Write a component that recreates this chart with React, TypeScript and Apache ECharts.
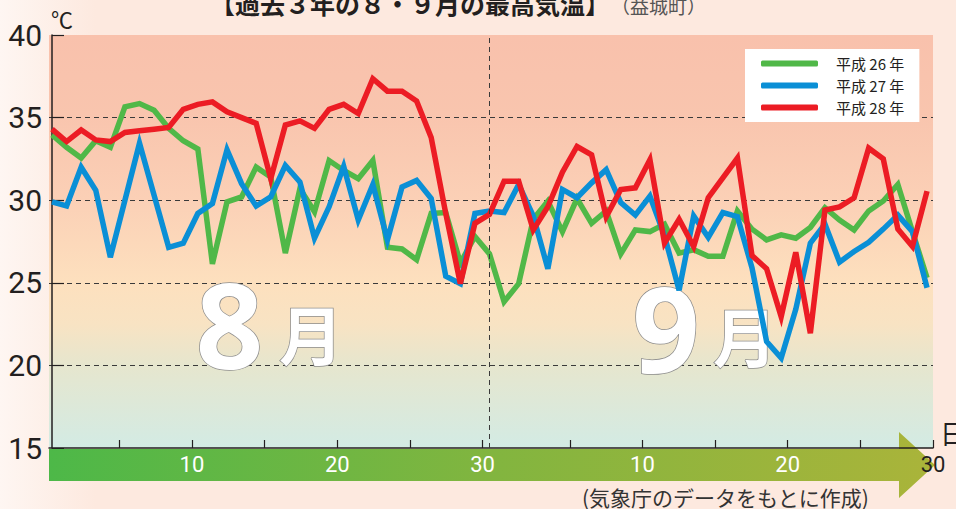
import React, { useEffect, useRef } from 'react';
import * as echarts from 'echarts';

const seriesNames = ['平成 26 年', '平成 27 年', '平成 28 年'];
const seriesColors = ['#50b848', '#0a8fd6', '#ec1c24'];

// Daily max temperature, Aug 1 .. Sep 30 (61 days)
const heisei26 = [
  33.95, 33.2, 32.55, 33.6, 33.2, 35.65, 35.85, 35.45, 34.35, 33.6,
  33.1, 26.15, 29.9, 30.2, 32.0, 31.4, 26.8, 30.7, 29.3, 32.4,
  31.8, 31.3, 32.4, 27.15, 27.05, 26.4, 29.2, 29.25, 26.2, 27.8,
  26.75, 23.85, 24.95, 28.85, 29.95, 28.1, 30.1, 28.6, 29.35, 26.75,
  28.2, 28.1, 28.55, 26.8, 27.0, 26.6, 26.6, 29.35, 28.25, 27.6,
  27.9, 27.7, 28.35, 29.55, 28.8, 28.2, 29.35, 29.95, 30.95, 28.1,
  25.3,
];
const heisei27 = [
  29.9, 29.65, 32.0, 30.6, 26.55, 30.0, 33.45, 30.3, 27.15, 27.4,
  29.2, 29.8, 33.05, 31.0, 29.65, 30.2, 32.1, 31.1, 27.7, 29.6,
  32.05, 28.8, 30.95, 27.6, 30.8, 31.2, 30.1, 25.4, 24.95, 29.2,
  29.35, 29.25, 30.95, 29.05, 25.85, 30.65, 30.15, 31.05, 31.85, 29.85,
  29.1, 30.25, 27.85, 24.55, 29.05, 27.75, 29.25, 29.0, 25.9, 21.45,
  20.45, 23.4, 27.4, 28.55, 26.25, 26.9, 27.45, 28.25, 29.1, 28.1,
  24.7,
];
const heisei28 = [
  34.3, 33.55, 34.25, 33.65, 33.55, 34.1, 34.2, 34.3, 34.4, 35.5,
  35.8, 35.95, 35.35, 35.0, 34.65, 31.3, 34.55, 34.8, 34.35, 35.5,
  35.8, 35.25, 37.35, 36.6, 36.6, 36.0, 33.8, 29.2, 24.95, 28.6,
  29.15, 31.15, 31.15, 28.2, 29.6, 31.7, 33.25, 32.75, 29.0, 30.65,
  30.75, 32.45, 27.4, 28.85, 27.2, 30.15, 31.35, 32.55, 26.65, 25.85,
  22.95, 26.85, 21.95, 29.4, 29.6, 30.15, 33.15, 32.5, 28.25, 27.2,
  30.55,
];

// day numbers counted from Aug 1 = 1 (Sep 1 = 32)
const xTickDays = [5, 10, 15, 20, 25, 30, 36, 41, 46, 51, 56, 61];
const xLabelDays = [10, 20, 30, 41, 51, 61];
const xTickLabels = ['10', '20', '30', '10', '20', '30'];
const monthDividerIndex = 30;

const titleMain = '【過去３年の８・９月の最高気温】';
const titleSub = '（益城町）';
const sourceNote = '(気象庁のデータをもとに作成)';

export default function App() {
  const ref = useRef<HTMLDivElement>(null);

  useEffect(() => {
    if (!ref.current) return;
    const chart = echarts.init(ref.current, null, { renderer: 'svg' });
    const allSeries = [heisei26, heisei27, heisei28];
    const sansJP = '"Noto Sans CJK JP", "Noto Sans", sans-serif';

    const option: any = {
      animation: false,
      textStyle: { fontFamily: sansJP },
      grid: {
        left: 49,
        right: 23,
        top: 35,
        bottom: 61,
        show: true,
        borderWidth: 0,
        backgroundColor: new echarts.graphic.LinearGradient(0, 0, 0, 1, [
          { offset: 0, color: '#f9c1ac' },
          { offset: 0.2, color: '#f9c5ae' },
          { offset: 0.4, color: '#fbd0b6' },
          { offset: 0.6, color: '#fde0be' },
          { offset: 0.7, color: '#f8e3c3' },
          { offset: 0.8, color: '#e6e6ce' },
          { offset: 1, color: '#d3ebe4' },
        ]),
      },
      legend: {
        orient: 'vertical',
        left: 745,
        top: 49,
        backgroundColor: '#ffffff',
        padding: [7, 15, 7, 16],
        itemWidth: 57,
        itemHeight: 6,
        itemGap: 7,
        icon: 'roundRect',
        textStyle: {
          fontSize: 15,
          color: '#231f20',
          fontFamily: sansJP,
          padding: [0, 0, 0, 13],
        },
        data: seriesNames,
      },
      xAxis: [
        {
          type: 'value',
          min: -0.206,
          max: 60.41,
          show: false,
        },
        {
          type: 'value',
          min: 0.16,
          max: 61,
          position: 'bottom',
          z: 3,
          axisLine: { show: true, lineStyle: { color: '#231f20', width: 1.5 } },
          axisTick: {
            show: true,
            inside: true,
            length: 8,
            customValues: xTickDays,
            lineStyle: { color: '#231f20', width: 1.2 },
          },
          axisLabel: {
            customValues: xLabelDays,
            margin: 5,
            fontSize: 22,
            color: '#ffffff',
            fontFamily: 'Roboto',
            formatter: (v: number) => {
              const k = xLabelDays.indexOf(Math.round(v));
              if (k < 0) return '';
              const t = xTickLabels[k];
              return k === xLabelDays.length - 1 ? `{d|${t}}` : t;
            },
            rich: { d: { color: '#231f20', fontSize: 22, fontFamily: 'Roboto' } },
          },
          splitLine: { show: false },
        },
      ],
      yAxis: {
        type: 'value',
        min: 15,
        max: 40,
        interval: 5,
        axisLine: { show: true, lineStyle: { color: '#231f20', width: 1.5 } },
        axisTick: { show: true, inside: true, length: 12, lineStyle: { color: '#231f20', width: 1.2 } },
        axisLabel: { fontSize: 30, color: '#231f20', margin: 7, fontFamily: 'Roboto' },
        splitLine: {
          show: true,
          showMinLine: false,
          showMaxLine: false,
          lineStyle: { color: '#3a3a3a', type: [5, 4], width: 1 },
        },
      },
      series: allSeries.map((arr, si) => ({
        name: seriesNames[si],
        type: 'line',
        xAxisIndex: 0,
        data: arr.map((v, i) => [i, v]),
        showSymbol: false,
        symbol: 'none',
        color: seriesColors[si],
        lineStyle: { width: 5.5, color: seriesColors[si], join: 'miter' },
        z: 2,
        markLine:
          si === 0
            ? {
                silent: true,
                symbol: 'none',
                label: { show: false },
                lineStyle: { color: '#3a3a3a', type: [5, 4], width: 1 },
                data: [{ xAxis: monthDividerIndex }],
              }
            : undefined,
      })),
      graphic: [
        {
          type: 'polygon',
          z: 1,
          shape: {
            points: [
              [49, 449], [899, 449], [899, 432], [935, 465], [899, 498], [899, 481], [49, 481],
            ],
          },
          style: {
            fill: new echarts.graphic.LinearGradient(0, 0, 1, 0, [
              { offset: 0, color: '#4db848' },
              { offset: 0.5, color: '#82b53f' },
              { offset: 1, color: '#aab43a' },
            ]),
          },
        },
        {
          type: 'text', z: 1, x: 229.5, y: 323,
          style: {
            text: '8', fill: '#ffffff', stroke: '#8c8c8c', lineWidth: 1.5,
            font: 'bold 118px "Noto Sans", sans-serif', textAlign: 'center', textVerticalAlign: 'middle',
          },
        },
        {
          type: 'text', z: 1, x: 311, y: 332,
          style: {
            text: '月', fill: '#ffffff', stroke: '#8c8c8c', lineWidth: 1.5,
            font: 'bold 64px "Noto Sans CJK JP", sans-serif', textAlign: 'center', textVerticalAlign: 'middle',
          },
        },
        {
          type: 'text', z: 1, x: 666, y: 327,
          style: {
            text: '9', fill: '#ffffff', stroke: '#8c8c8c', lineWidth: 1.5,
            font: 'bold 118px "Noto Sans", sans-serif', textAlign: 'center', textVerticalAlign: 'middle',
          },
        },
        {
          type: 'text', z: 1, x: 745, y: 334,
          style: {
            text: '月', fill: '#ffffff', stroke: '#8c8c8c', lineWidth: 1.5,
            font: 'bold 64px "Noto Sans CJK JP", sans-serif', textAlign: 'center', textVerticalAlign: 'middle',
          },
        },
        {
          type: 'text', x: 210, y: 3,
          style: {
            text: titleMain, fill: '#231f20',
            font: 'bold 25px "Noto Sans CJK JP", sans-serif', textAlign: 'left', textVerticalAlign: 'middle',
          },
        },
        {
          type: 'text', x: 611, y: 5,
          style: {
            text: titleSub, fill: '#555555',
            font: '19px "Noto Sans CJK JP", sans-serif', textAlign: 'left', textVerticalAlign: 'middle',
          },
        },
        {
          type: 'text', x: 62, y: 18,
          style: {
            text: '℃', fill: '#231f20',
            font: '22px "Noto Sans CJK JP", sans-serif', textAlign: 'center', textVerticalAlign: 'middle',
          },
        },
        {
          type: 'text', x: 940, y: 432,
          style: {
            text: '日', fill: '#231f20',
            font: '26px "Noto Sans CJK JP", sans-serif', textAlign: 'left', textVerticalAlign: 'middle',
          },
        },
        {
          type: 'text', x: 582, y: 497,
          style: {
            text: sourceNote, fill: '#333333',
            font: '21px "Noto Sans CJK JP", sans-serif', textAlign: 'left', textVerticalAlign: 'middle',
          },
        },
      ],
    };

    chart.setOption(option);
    return () => chart.dispose();
  }, []);

  return (
    <div
      ref={ref}
      style={{
        position: 'fixed',
        left: 0,
        top: 0,
        width: 956,
        height: 509,
        background: 'linear-gradient(90deg, #fef6f2 0%, #fde9df 10%, #fde9df 100%)',
      }}
    />
  );
}
